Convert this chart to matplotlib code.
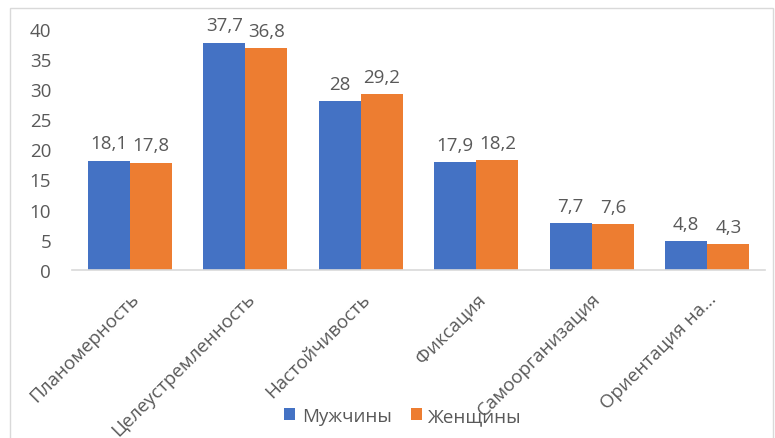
import numpy as np
import matplotlib
matplotlib.use("Agg")
import matplotlib.pyplot as plt
from matplotlib.patches import Rectangle

# Chart data.
CATEGORIES = ["Планомерность", "Целеустремленность", "Настойчивость",
              "Фиксация", "Самоорганизация", "Ориентация на..."]
MEN = [18.1, 37.7, 28, 17.9, 7.7, 4.8]
WOMEN = [17.8, 36.8, 29.2, 18.2, 7.6, 4.3]
SERIES_NAMES = ["Мужчины", "Женщины"]
Y_TICKS = [0, 5, 10, 15, 20, 25, 30, 35, 40]

BLUE = "#4472C4"
ORANGE = "#ED7D31"
TEXT_GREY = "#595959"
FS = 13.5

plt.rcParams["font.family"] = ["Open Sans", "DejaVu Sans"]

fig = plt.figure(figsize=(7.75, 4.39), dpi=100)
ax = fig.add_axes([0.093, 0.383, 0.894, 0.549])

x = np.arange(len(CATEGORIES))
width = 0.365

bars_m = ax.bar(x - width / 2, MEN, width, color=BLUE, label=SERIES_NAMES[0])
bars_w = ax.bar(x + width / 2, WOMEN, width, color=ORANGE, label=SERIES_NAMES[1])


def fmt(v):
    return f"{v:g}".replace(".", ",")


for bars, vals in ((bars_m, MEN), (bars_w, WOMEN)):
    for b, v in zip(bars, vals):
        ax.annotate(fmt(v), (b.get_x() + b.get_width() / 2, v),
                    xytext=(0, 6), textcoords="offset points",
                    ha="center", va="bottom", fontsize=FS, color=TEXT_GREY)

ax.set_xlim(-0.5, len(CATEGORIES) - 0.5)
ax.set_ylim(0, 40)
ax.set_yticks(Y_TICKS)
ax.tick_params(axis="y", length=0, pad=15, labelsize=FS, labelcolor=TEXT_GREY)
ax.set_xticks(x)
ax.set_xticklabels(CATEGORIES, rotation=45, ha="right", va="top",
                   rotation_mode="anchor", fontsize=FS, color=TEXT_GREY)
ax.tick_params(axis="x", length=0, pad=14)

for side in ("top", "right", "left"):
    ax.spines[side].set_visible(False)
ax.spines["bottom"].set_color("#D9D9D9")
ax.spines["bottom"].set_linewidth(1.2)

leg = fig.legend(loc="center", bbox_to_anchor=(0.52, 0.05), ncol=2,
                 frameon=False, fontsize=FS, handlelength=0.6,
                 handleheight=0.6, handletextpad=0.35, columnspacing=1.0)
for t in leg.get_texts():
    t.set_color(TEXT_GREY)

# light frame around the chart area
fig.patches.append(Rectangle((0.013, -0.01), 0.985, 0.99, transform=fig.transFigure,
                             fill=False, edgecolor="#D9D9D9", linewidth=1.0))

fig.savefig("out.png", dpi=100)
